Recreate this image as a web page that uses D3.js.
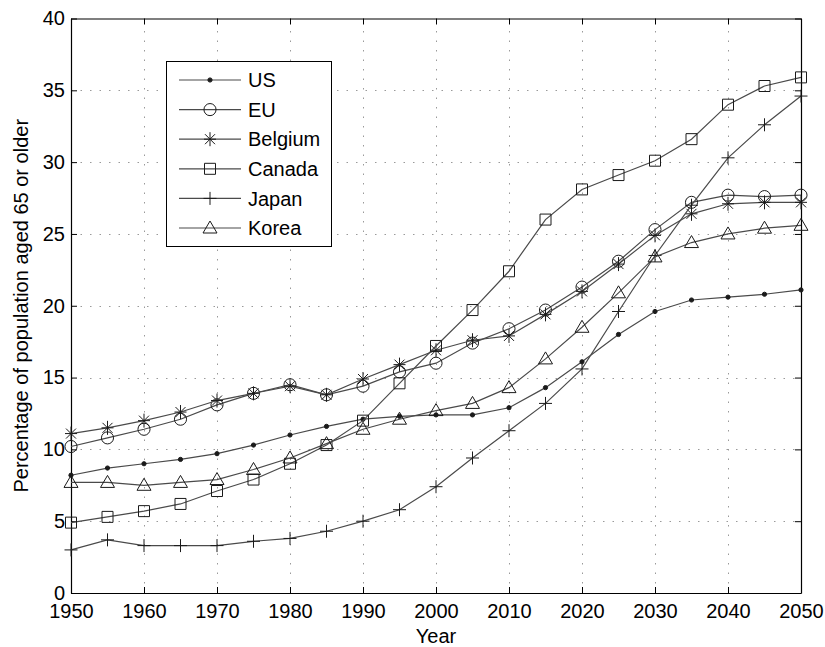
<!DOCTYPE html>
<html>
<head>
<meta charset="utf-8">
<script src="https://cdn.jsdelivr.net/npm/d3@7"></script>
<style>
  html, body { margin: 0; padding: 0; background: #fff; }
  svg { display: block; font-family: "Liberation Sans", Arial, sans-serif; }
</style>
</head>
<body>
<svg id="chart" width="825" height="647"></svg>
<script>
// Share of population aged 65 or older, 1950–2050 (five-year steps)
const years = [1950, 1955, 1960, 1965, 1970, 1975, 1980, 1985, 1990, 1995, 2000,
               2005, 2010, 2015, 2020, 2025, 2030, 2035, 2040, 2045, 2050];

const usValues      = [8.2, 8.7, 9.0, 9.3, 9.7, 10.3, 11.0, 11.6, 12.1, 12.3, 12.4,
                       12.4, 12.9, 14.3, 16.1, 18.0, 19.6, 20.4, 20.6, 20.8, 21.1];
const euValues      = [10.2, 10.8, 11.4, 12.1, 13.1, 13.9, 14.5, 13.8, 14.4, 15.4, 16.0,
                       17.4, 18.4, 19.7, 21.3, 23.1, 25.3, 27.2, 27.7, 27.6, 27.7];
const belgiumValues = [11.1, 11.5, 12.0, 12.6, 13.4, 13.9, 14.4, 13.8, 14.9, 15.9, 16.9,
                       17.6, 17.9, 19.4, 21.0, 22.9, 24.9, 26.4, 27.1, 27.2, 27.2];
const canadaValues  = [4.9, 5.3, 5.7, 6.2, 7.1, 7.9, 9.0, 10.3, 12.0, 14.6, 17.2,
                       19.7, 22.4, 26.0, 28.1, 29.1, 30.1, 31.6, 34.0, 35.3, 35.9];
const japanValues   = [3.0, 3.7, 3.3, 3.3, 3.3, 3.6, 3.8, 4.3, 5.0, 5.8, 7.4,
                       9.4, 11.3, 13.2, 15.6, 19.6, 23.5, 27.0, 30.3, 32.6, 34.6];
const koreaValues   = [7.7, 7.7, 7.5, 7.7, 7.9, 8.6, 9.4, 10.4, 11.4, 12.1, 12.7,
                       13.2, 14.3, 16.3, 18.5, 20.9, 23.4, 24.4, 25.0, 25.4, 25.6];

const seriesNames   = ["US", "EU", "Belgium", "Canada", "Japan", "Korea"];
const seriesMarkers = ["dot", "circle", "asterisk", "square", "plus", "triangle"];
const seriesValues  = [usValues, euValues, belgiumValues, canadaValues, japanValues, koreaValues];

const xTicks = [1950, 1960, 1970, 1980, 1990, 2000, 2010, 2020, 2030, 2040, 2050];
const yTicks = [0, 5, 10, 15, 20, 25, 30, 35, 40];

const xLabel = "Year";
const yLabel = "Percentage of population aged 65 or older";

// ---- layout ----
const plot = { left: 71, right: 801, top: 18.5, bottom: 593 };
const svg = d3.select("#chart");

const x = d3.scaleLinear().domain([1950, 2050]).range([plot.left, plot.right]);
const y = d3.scaleLinear().domain([0, 40]).range([plot.bottom, plot.top]);

const lineColor = "#4a4a4a";
const markColor = "#1a1a1a";
const fontSize = 20;

// ---- grid (dotted) ----
const grid = svg.append("g").attr("stroke", "#9a9a9a").attr("stroke-width", 1)
  .attr("stroke-dasharray", "1.5,8").attr("fill", "none");
grid.selectAll("line.gx").data(xTicks.slice(1, -1)).join("line")
  .attr("x1", d => Math.round(x(d)) + 0.5).attr("x2", d => Math.round(x(d)) + 0.5)
  .attr("y1", plot.bottom).attr("y2", plot.top);
grid.selectAll("line.gy").data(yTicks.slice(1, -1)).join("line")
  .attr("y1", d => Math.round(y(d)) + 0.5).attr("y2", d => Math.round(y(d)) + 0.5)
  .attr("x1", plot.left).attr("x2", plot.right);

// ---- axes (ticks inward, boxed) ----
const tickLen = 6;
const axisBottom = d3.axisBottom(x).tickValues(xTicks).tickFormat(d3.format("d"))
  .tickSizeInner(-tickLen).tickSizeOuter(0).tickPadding(11);
const axisTop = d3.axisTop(x).tickValues(xTicks).tickFormat("")
  .tickSizeInner(-tickLen).tickSizeOuter(0);
const axisLeft = d3.axisLeft(y).tickValues(yTicks).tickFormat(d3.format("d"))
  .tickSizeInner(-tickLen).tickSizeOuter(0).tickPadding(6);
const axisRight = d3.axisRight(y).tickValues(yTicks).tickFormat("")
  .tickSizeInner(-tickLen).tickSizeOuter(0);

function styleAxis(g) {
  g.selectAll("path.domain").attr("stroke", "#000").attr("stroke-width", 1.2);
  g.selectAll(".tick line").attr("stroke", "#000").attr("stroke-width", 1);
  g.selectAll(".tick text").attr("fill", "#000").attr("font-size", fontSize)
    .attr("font-family", "Liberation Sans, Arial, sans-serif");
}

svg.append("g").attr("transform", `translate(0,${plot.bottom})`).call(axisBottom).call(styleAxis);
svg.append("g").attr("transform", `translate(0,${plot.top})`).call(axisTop).call(styleAxis);
svg.append("g").attr("transform", `translate(${plot.left},0)`).call(axisLeft).call(styleAxis);
svg.append("g").attr("transform", `translate(${plot.right},0)`).call(axisRight).call(styleAxis);

// axis titles
svg.append("text").attr("x", (plot.left + plot.right) / 2).attr("y", 643)
  .attr("text-anchor", "middle").attr("font-size", fontSize).attr("fill", "#000").text(xLabel);
svg.append("text")
  .attr("transform", `translate(28,${(plot.top + plot.bottom) / 2}) rotate(-90)`)
  .attr("text-anchor", "middle").attr("font-size", fontSize).attr("fill", "#000").text(yLabel);

// ---- marker shapes ----
function markerPath(kind) {
  switch (kind) {
    case "dot":      return d3.symbol(d3.symbolCircle, 14)();
    case "circle":   return d3.symbol(d3.symbolCircle, 115)();
    case "square":   return "M-5.5,-5.5H5.5V5.5H-5.5Z";
    case "triangle": return "M0,-7L7,5L-7,5Z";
    case "plus":     return "M-6.5,0H6.5M0,-6.5V6.5";
    case "asterisk": return "M0,-7V7M-6,0H6M-5,-5L5,5M-5,5L5,-5";
  }
}
function drawMarker(sel, kind) {
  sel.append("path").attr("d", markerPath(kind))
    .attr("fill", kind === "dot" ? markColor : "none")
    .attr("stroke", markColor).attr("stroke-width", 1);
}

// ---- series ----
const line = d3.line().x((d, i) => x(years[i])).y(d => y(d));
const seriesG = svg.append("g");
seriesValues.forEach((vals, k) => {
  const g = seriesG.append("g");
  g.append("path").attr("d", line(vals)).attr("fill", "none")
    .attr("stroke", lineColor).attr("stroke-width", 1.2);
  vals.forEach((v, i) => {
    const m = g.append("g").attr("transform", `translate(${x(years[i])},${y(v)})`);
    drawMarker(m, seriesMarkers[k]);
  });
});

// ---- legend ----
const legend = { left: 166.5, top: 61.5, width: 165, height: 185, row0: 80, rowStep: 29.6 };
const lg = svg.append("g");
lg.append("rect").attr("x", legend.left).attr("y", legend.top)
  .attr("width", legend.width).attr("height", legend.height)
  .attr("fill", "#fff").attr("stroke", "#000").attr("stroke-width", 1);
seriesNames.forEach((name, k) => {
  const ry = legend.row0 + k * legend.rowStep;
  lg.append("line").attr("x1", 179).attr("x2", 241).attr("y1", ry).attr("y2", ry)
    .attr("stroke", lineColor).attr("stroke-width", 1.2);
  drawMarker(lg.append("g").attr("transform", `translate(210,${ry})`), seriesMarkers[k]);
  lg.append("text").attr("x", 248).attr("y", ry).attr("dy", "0.36em")
    .attr("font-size", fontSize).attr("fill", "#000").text(name);
});
</script>
</body>
</html>
